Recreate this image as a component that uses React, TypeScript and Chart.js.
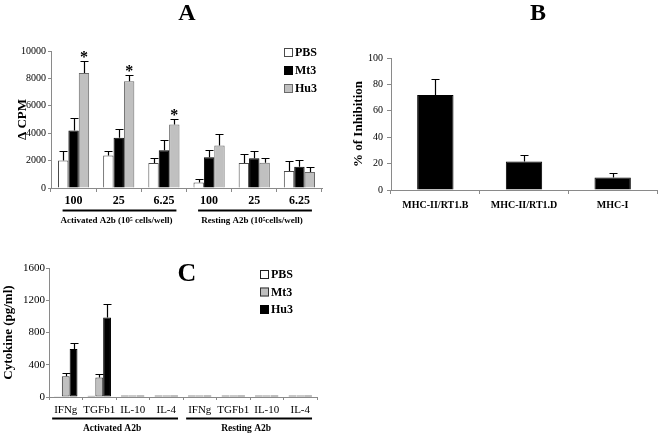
import React, { useEffect, useRef } from 'react';
import { Chart, registerables } from 'chart.js';

Chart.register(...registerables);

const SERIF = "'Liberation Serif', 'Times New Roman', serif";
const AXIS = '#8a8a8a';

// ---------- Panel A : proliferation (Δ CPM) ----------
const panelATitle = 'A';
const doseLabels = ['100', '25', '6.25', '100', '25', '6.25'];
const cpmSeries = ['PBS', 'Mt3', 'Hu3'];
const pbsCpm = [2000, 2370, 1830, 410, 1830, 1240];
const pbsCpmErr = [700, 300, 340, 270, 680, 700];
const mt3Cpm = [4200, 3660, 2760, 2240, 2170, 1560];
const mt3CpmErr = [900, 680, 730, 510, 510, 510];
const hu3Cpm = [8400, 7800, 4630, 3100, 1850, 1170];
const hu3CpmErr = [850, 420, 420, 850, 340, 370];
const hu3CpmMarks = ['*', '*', '*', '', '', ''];
const cpmGroupLabels = ['Activated A2b (10⁵ cells/well)', 'Resting A2b (10⁵cells/well)'];
const cpmGroupRanges = [[0, 2], [3, 5]];
const cpmAxisTitle = 'Δ CPM';
const cpmMin = 0;
const cpmMax = 10000;
const cpmStep = 2000;

// ---------- Panel B : % inhibition ----------
const panelBTitle = 'B';
const mhcLabels = ['MHC-II/RT1.B', 'MHC-II/RT1.D', 'MHC-I'];
const inhibition = [72, 21.5, 9.4];
const inhibitionErr = [12, 5, 3.3];
const inhibitionAxisTitle = '% of Inhibition';
const inhibitionMin = 0;
const inhibitionMax = 100;
const inhibitionStep = 20;

// ---------- Panel C : cytokines ----------
const panelCTitle = 'C';
const cytokineLabels = ['IFNg', 'TGFb1', 'IL-10', 'IL-4', 'IFNg', 'TGFb1', 'IL-10', 'IL-4'];
const cytoSeries = ['PBS', 'Mt3', 'Hu3'];
const pbsCyto = [8, 14, 20, 20, 20, 20, 20, 20];
const pbsCytoErr = [0, 0, 0, 0, 0, 0, 0, 0];
const mt3Cyto = [258, 243, 20, 20, 20, 20, 20, 20];
const mt3CytoErr = [42, 40, 0, 0, 0, 0, 0, 0];
const hu3Cyto = [595, 985, 20, 20, 20, 20, 20, 20];
const hu3CytoErr = [80, 168, 0, 0, 0, 0, 0, 0];
const cytoGroupLabels = ['Activated A2b', 'Resting A2b'];
const cytoGroupRanges = [[0, 3], [4, 7]];
const cytoAxisTitle = 'Cytokine (pg/ml)';
const cytoMin = 0;
const cytoMax = 1600;
const cytoStep = 400;

const font = (size: number, weight: string = 'normal') => ({ family: SERIF, size, weight } as any);

function errorBarPlugin(errors: number[][], cap: number, marks?: { ds: number; labels: string[]; size: number }) {
  return {
    id: 'errorBars',
    afterDatasetsDraw(chart: any) {
      const { ctx } = chart;
      const y = chart.scales.y;
      ctx.save();
      ctx.strokeStyle = '#000';
      ctx.lineWidth = 1.2;
      errors.forEach((errs, di) => {
        const meta = chart.getDatasetMeta(di);
        const data = chart.data.datasets[di].data as number[];
        meta.data.forEach((bar: any, i: number) => {
          const e = errs[i];
          if (!e) return;
          const x = Math.round(bar.x) + 0.5;
          const y0 = y.getPixelForValue(data[i]);
          const y1 = Math.round(y.getPixelForValue(data[i] + e)) + 0.5;
          ctx.beginPath();
          ctx.moveTo(x, y0);
          ctx.lineTo(x, y1);
          ctx.moveTo(x - cap / 2, y1);
          ctx.lineTo(x + cap / 2, y1);
          ctx.stroke();
        });
      });
      if (marks) {
        const meta = chart.getDatasetMeta(marks.ds);
        const data = chart.data.datasets[marks.ds].data as number[];
        ctx.fillStyle = '#000';
        ctx.font = `bold ${marks.size}px ${SERIF}`;
        ctx.textAlign = 'center';
        ctx.textBaseline = 'alphabetic';
        meta.data.forEach((bar: any, i: number) => {
          const m = marks.labels[i];
          if (!m) return;
          const top = y.getPixelForValue(data[i] + (errors[marks.ds][i] || 0));
          ctx.fillText(m, bar.x, top + 1);
        });
      }
      ctx.restore();
    },
  };
}

function legendPlugin(x: number, y: number, box: number, step: number, size: number) {
  return {
    id: 'boxLegend',
    afterDraw(chart: any) {
      const { ctx } = chart;
      ctx.save();
      ctx.font = `bold ${size}px ${SERIF}`;
      ctx.textBaseline = 'middle';
      ctx.textAlign = 'left';
      chart.data.datasets.forEach((ds: any, i: number) => {
        const top = y + i * step;
        ctx.fillStyle = ds.backgroundColor;
        ctx.fillRect(x, top, box, box);
        ctx.strokeStyle = ds.borderColor;
        ctx.lineWidth = 1;
        ctx.strokeRect(x + 0.5, top + 0.5, box - 1, box - 1);
        ctx.fillStyle = '#000';
        ctx.fillText(ds.label, x + box + 2, top + box / 2 + 0.5);
      });
      ctx.restore();
    },
  };
}

function textPlugin(text: string, x: number, y: number, size: number) {
  return {
    id: 'panelLetter',
    afterDraw(chart: any) {
      const { ctx } = chart;
      ctx.save();
      ctx.font = `bold ${size}px ${SERIF}`;
      ctx.fillStyle = '#000';
      ctx.textAlign = 'center';
      ctx.textBaseline = 'alphabetic';
      ctx.fillText(text, x, y);
      ctx.restore();
    },
  };
}

function groupPlugin(labels: string[], ranges: number[][], tickSize: number, tickWeight: string, lineY: number, textY: number, textSize: number) {
  return {
    id: 'groupLabels',
    afterDraw(chart: any) {
      const { ctx } = chart;
      const xs = chart.scales.x;
      const cats = chart.data.labels as string[];
      ctx.save();
      labels.forEach((label, g) => {
        const [a, b] = ranges[g];
        ctx.font = `${tickWeight} ${tickSize}px ${SERIF}`;
        const wa = ctx.measureText(cats[a]).width;
        const wb = ctx.measureText(cats[b]).width;
        const left = xs.getPixelForValue(a) - wa / 2 - 2;
        const right = xs.getPixelForValue(b) + wb / 2 + 2;
        ctx.fillStyle = '#000';
        ctx.fillRect(left, lineY - 1, right - left, 2);
        ctx.font = `bold ${textSize}px ${SERIF}`;
        ctx.textAlign = 'center';
        ctx.textBaseline = 'middle';
        ctx.fillText(label, (left + right) / 2 - 3, textY);
      });
      ctx.restore();
    },
  };
}

function xScale(size: number, weight: string, tickLength: number, padding: number, height: number) {
  return {
    grid: { display: true, drawOnChartArea: false, tickLength, color: AXIS, offset: true },
    border: { color: AXIS },
    ticks: { font: font(size, weight), color: '#000', padding, maxRotation: 0, autoSkip: false },
    afterFit: (s: any) => { s.height = height; },
  };
}

function yScale(min: number, max: number, step: number, size: number, tickLength: number, padding: number, width: number, title: string, titleSize: number, titlePad: number) {
  return {
    min,
    max,
    ticks: { stepSize: step, font: font(size), color: '#000', padding, callback: (v: any) => String(v) },
    grid: { drawOnChartArea: false, tickLength, color: AXIS },
    border: { color: AXIS },
    title: { display: true, text: title, font: font(titleSize, 'bold'), color: '#000', padding: { top: titlePad, bottom: 0 } },
    afterFit: (s: any) => { s.width = width; },
  };
}

export default function App() {
  const refA = useRef<HTMLCanvasElement>(null);
  const refB = useRef<HTMLCanvasElement>(null);
  const refC = useRef<HTMLCanvasElement>(null);

  useEffect(() => {
    const charts: Chart[] = [];

    charts.push(new Chart(refA.current as HTMLCanvasElement, {
      type: 'bar',
      data: {
        labels: doseLabels,
        datasets: [
          { label: cpmSeries[0], data: pbsCpm, backgroundColor: '#ffffff', borderColor: '#4a4a4a', borderWidth: 1 },
          { label: cpmSeries[1], data: mt3Cpm, backgroundColor: '#000000', borderColor: '#000000', borderWidth: 1 },
          { label: cpmSeries[2], data: hu3Cpm, backgroundColor: '#c0c0c0', borderColor: '#6a6a6a', borderWidth: 1 },
        ],
      },
      options: {
        responsive: false,
        animation: false,
        layout: { padding: { top: 51, right: 8, bottom: 0, left: 0 } },
        datasets: { bar: { categoryPercentage: 0.69, barPercentage: 1 } },
        plugins: { legend: { display: false }, tooltip: { enabled: false } },
        scales: {
          x: xScale(12, 'bold', 4, 2, 38),
          y: yScale(cpmMin, cpmMax, cpmStep, 10, 3, 2, 51, cpmAxisTitle, 13, 15),
        },
      } as any,
      plugins: [
        errorBarPlugin([pbsCpmErr, mt3CpmErr, hu3CpmErr], 8, { ds: 2, labels: hu3CpmMarks, size: 16 }),
        legendPlugin(284, 48, 9, 18, 12),
        textPlugin(panelATitle, 187, 20, 24),
        groupPlugin(cpmGroupLabels, cpmGroupRanges, 12, 'bold', 210.5, 221, 9),
      ],
    }));

    charts.push(new Chart(refB.current as HTMLCanvasElement, {
      type: 'bar',
      data: {
        labels: mhcLabels,
        datasets: [
          { label: inhibitionAxisTitle, data: inhibition, backgroundColor: '#000000', borderColor: '#000000', borderWidth: 1 },
        ],
      },
      options: {
        responsive: false,
        animation: false,
        layout: { padding: { top: 58, right: 2, bottom: 0, left: 0 } },
        datasets: { bar: { categoryPercentage: 0.41, barPercentage: 1 } },
        plugins: { legend: { display: false }, tooltip: { enabled: false } },
        scales: {
          x: xScale(10, 'bold', 4, 5, 36),
          y: yScale(inhibitionMin, inhibitionMax, inhibitionStep, 10, 4, 4, 61, inhibitionAxisTitle, 13, 21),
        },
      } as any,
      plugins: [
        errorBarPlugin([inhibitionErr], 8),
        textPlugin(panelBTitle, 208, 20, 24),
      ],
    }));

    charts.push(new Chart(refC.current as HTMLCanvasElement, {
      type: 'bar',
      data: {
        labels: cytokineLabels,
        datasets: [
          { label: cytoSeries[0], data: pbsCyto, backgroundColor: '#ffffff', borderColor: '#222222', borderWidth: 1, borderSkipped: false },
          { label: cytoSeries[1], data: mt3Cyto, backgroundColor: '#c0c0c0', borderColor: '#333333', borderWidth: 1, borderSkipped: false },
          { label: cytoSeries[2], data: hu3Cyto, backgroundColor: '#000000', borderColor: '#000000', borderWidth: 1, borderSkipped: false },
        ],
      },
      options: {
        responsive: false,
        animation: false,
        layout: { padding: { top: 43, right: 13, bottom: 0, left: 0 } },
        datasets: { bar: { categoryPercentage: 0.7, barPercentage: 1 } },
        plugins: { legend: { display: false }, tooltip: { enabled: false } },
        scales: {
          x: xScale(11, 'normal', 3, 4, 38),
          y: yScale(cytoMin, cytoMax, cytoStep, 11, 3, 1, 49, cytoAxisTitle, 13, 1),
        },
      } as any,
      plugins: [
        errorBarPlugin([pbsCytoErr, mt3CytoErr, hu3CytoErr], 8),
        legendPlugin(260, 45, 9, 17.5, 12),
        textPlugin(panelCTitle, 187, 56, 26),
        groupPlugin(cytoGroupLabels, cytoGroupRanges, 11, 'normal', 193.5, 203.5, 9.5),
      ],
    }));

    return () => charts.forEach((c) => c.destroy());
  }, []);

  const abs = (left: number, top: number): React.CSSProperties => ({ position: 'absolute', left, top, display: 'block' });

  return (
    <div style={{ position: 'fixed', left: 0, top: 0, width: 659, height: 435, background: '#fff', overflow: 'hidden' }}>
      <canvas ref={refA} width={330} height={226} style={abs(0, 0)} />
      <canvas ref={refB} width={329} height={226} style={abs(330, 0)} />
      <canvas ref={refC} width={330} height={210} style={abs(0, 225)} />
    </div>
  );
}
